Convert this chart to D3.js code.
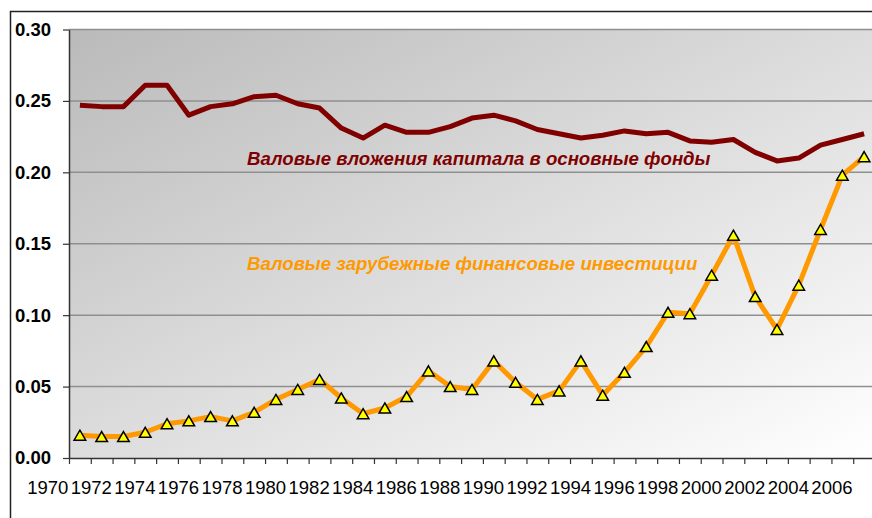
<!DOCTYPE html>
<html>
<head>
  <meta charset="utf-8">
  <script src="https://d3js.org/d3.v7.min.js"></script>
  <style>
    body { margin: 0; background: #fff; }
    svg { display: block; font-family: "Liberation Sans", Arial, sans-serif; }
  </style>
</head>
<body>
  <svg width="872" height="518"></svg>
  <script>
    // data
    var years = [1970, 1971, 1972, 1973, 1974, 1975, 1976, 1977, 1978, 1979,
                 1980, 1981, 1982, 1983, 1984, 1985, 1986, 1987, 1988, 1989,
                 1990, 1991, 1992, 1993, 1994, 1995, 1996, 1997, 1998, 1999,
                 2000, 2001, 2002, 2003, 2004, 2005, 2006];
    var fixedCapital = [0.247, 0.246, 0.246, 0.261, 0.261, 0.240, 0.246, 0.248, 0.253, 0.254,
                        0.248, 0.245, 0.231, 0.224, 0.233, 0.228, 0.228, 0.232, 0.238, 0.240,
                        0.236, 0.230, 0.227, 0.224, 0.226, 0.229, 0.227, 0.228, 0.222, 0.221,
                        0.223, 0.214, 0.208, 0.210, 0.219, 0.223, 0.227];
    var foreignInvest = [0.016, 0.015, 0.015, 0.018, 0.024, 0.026, 0.029, 0.026, 0.032, 0.041,
                         0.048, 0.055, 0.042, 0.031, 0.035, 0.043, 0.061, 0.050, 0.048, 0.068,
                         0.053, 0.041, 0.047, 0.068, 0.044, 0.060, 0.078, 0.102, 0.101, 0.128,
                         0.156, 0.113, 0.090, 0.121, 0.160, 0.198, 0.211];
    var yTicks = [0, 0.05, 0.10, 0.15, 0.20, 0.25, 0.30];
    var xLabelYears = [1970, 1972, 1974, 1976, 1978, 1980, 1982, 1984, 1986, 1988,
                       1990, 1992, 1994, 1996, 1998, 2000, 2002, 2004, 2006];
    var labelRed = "Валовые вложения капитала в основные фонды";
    var labelOrange = "Валовые зарубежные финансовые инвестиции";

    var svg = d3.select("svg"),
        margin = {top: 29.5, left: 69, bottom: 60},
        width = 806,
        height = 428.5;

    var x = d3.scaleLinear()
        .domain([1969.5, 2006.5])
        .range([margin.left, margin.left + width]);

    var y = d3.scaleLinear()
        .domain([0, 0.30])
        .range([margin.top + height, margin.top]);

    var step = x(1) - x(0);

    // outer frame
    svg.append("path")
        .attr("d", "M10.5,600V11.5H900")
        .attr("fill", "none")
        .attr("stroke", "#222")
        .attr("stroke-width", 1.5);

    var defs = svg.append("defs");
    var grad = defs.append("linearGradient")
        .attr("id", "bg")
        .attr("x1", 0).attr("y1", 0).attr("x2", 1).attr("y2", 1);
    grad.append("stop").attr("offset", "0%").attr("stop-color", "#bababa");
    grad.append("stop").attr("offset", "100%").attr("stop-color", "#ffffff");

    svg.append("rect")
        .attr("x", margin.left)
        .attr("y", margin.top)
        .attr("width", width)
        .attr("height", height)
        .attr("fill", "url(#bg)");

    // grid
    svg.append("g")
        .selectAll("line")
        .data(yTicks.slice(1))
        .enter()
        .append("line")
        .attr("x1", margin.left)
        .attr("x2", margin.left + width)
        .attr("y1", function(d) { return y(d); })
        .attr("y2", function(d) { return y(d); })
        .attr("stroke", "#8f8f8f")
        .attr("stroke-width", 1.5);

    // y axis
    var yAxis = svg.append("g")
        .attr("transform", "translate(" + margin.left + ",0)")
        .call(d3.axisLeft(y).tickValues(yTicks).tickFormat(d3.format(".2f"))
            .tickSize(6).tickPadding(12).tickSizeOuter(0));
    yAxis.select(".domain").attr("stroke", "#333").attr("stroke-width", 1.5);
    yAxis.selectAll(".tick line").attr("stroke", "#333").attr("stroke-width", 1.2);
    yAxis.selectAll("text")
        .attr("fill", "#000")
        .attr("font-size", 18.5)
        .attr("font-weight", "bold")
        .attr("font-family", "'Liberation Sans', Arial, sans-serif");

    // x axis: tick marks on category boundaries
    var boundaries = years.map(function(d) { return d - 0.5; }).concat([2006.5]);
    var xAxis = svg.append("g")
        .attr("transform", "translate(0," + (margin.top + height) + ")")
        .call(d3.axisBottom(x).tickValues(boundaries).tickFormat("")
            .tickSize(6).tickSizeOuter(0));
    xAxis.select(".domain").attr("stroke", "#333").attr("stroke-width", 1.5);
    xAxis.selectAll(".tick line").attr("stroke", "#333").attr("stroke-width", 1.2);

    var xLabels = svg.append("g")
        .attr("transform", "translate(0," + (margin.top + height) + ")")
        .call(d3.axisBottom(x).tickValues(xLabelYears).tickFormat(d3.format("d"))
            .tickSize(0).tickPadding(23));
    xLabels.select(".domain").remove();
    xLabels.selectAll("text")
        .attr("dx", -1.5 * step)
        .attr("fill", "#000")
        .attr("font-size", 18.5)
        .attr("font-family", "'Liberation Sans', Arial, sans-serif");

    // lines
    var redData = years.map(function(d, i) { return [d, fixedCapital[i]]; });
    var orangeData = years.map(function(d, i) { return [d, foreignInvest[i]]; });

    var line = d3.line()
        .x(function(d) { return x(d[0]); })
        .y(function(d) { return y(d[1]); });

    svg.append("path")
        .datum(redData)
        .attr("fill", "none")
        .attr("stroke", "#800000")
        .attr("stroke-width", 5)
        .attr("stroke-linejoin", "round")
        .attr("d", line);

    svg.append("path")
        .datum(orangeData)
        .attr("fill", "none")
        .attr("stroke", "#ff9900")
        .attr("stroke-width", 5)
        .attr("stroke-linejoin", "round")
        .attr("d", line);

    var tri = d3.symbol().type(d3.symbolTriangle).size(58);
    var r = Math.sqrt(58 / (Math.sqrt(3) * 3));
    svg.append("g")
        .selectAll("path")
        .data(orangeData)
        .enter()
        .append("path")
        .attr("d", tri)
        .attr("transform", function(d) { return "translate(" + x(d[0]) + "," + (y(d[1]) + r / 2) + ")"; })
        .attr("fill", "#ffff00")
        .attr("stroke", "#000")
        .attr("stroke-width", 1.5);

    // series labels
    svg.append("text")
        .attr("x", x(1977.67))
        .attr("y", y(0.2051))
        .attr("fill", "#800000")
        .style("font-size", "18.6px")
        .style("font-weight", "bold")
        .style("font-style", "italic")
        .text(labelRed);

    svg.append("text")
        .attr("x", x(1977.67))
        .attr("y", y(0.1316))
        .attr("fill", "#ff9900")
        .style("font-size", "18.6px")
        .style("font-weight", "bold")
        .style("font-style", "italic")
        .text(labelOrange);
  </script>
</body>
</html>
